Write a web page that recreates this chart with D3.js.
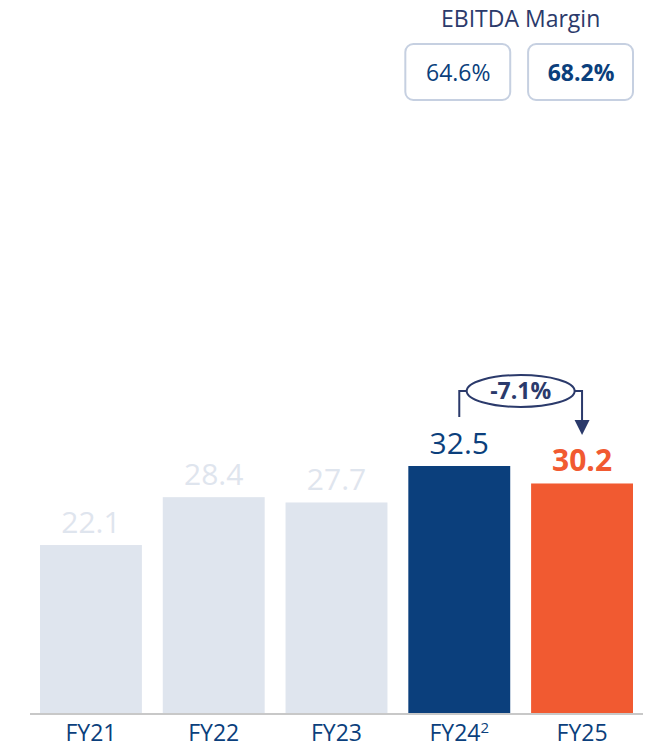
<!DOCTYPE html>
<html>
<head>
<meta charset="utf-8">
<style>
  body { margin: 0; background: #fff; }
  svg text { font-family: "Open Sans", "DejaVu Sans", sans-serif; }
</style>
</head>
<body>
<svg id="chart" width="656" height="750"></svg>
<script src="https://cdnjs.cloudflare.com/ajax/libs/d3/7.8.5/d3.min.js"></script>
<script>
// data
var years = ["FY21", "FY22", "FY23", "FY24", "FY25"];
var footnotes = ["", "", "", "2", ""];
var values = [22.1, 28.4, 27.7, 32.5, 30.2];
var marginYears = ["FY24", "FY25"];
var margins = ["64.6%", "68.2%"];
var changeLabel = "-7.1%";

var navy = "#0b3f7c", orange = "#f15a31", pale = "#dfe5ee", ink = "#2b3a6b";

var svg = d3.select("#chart");

var x = d3.scaleBand().domain(years).range([40, 633]).paddingInner(0.17).paddingOuter(0);
var y = d3.scaleLinear().domain([0, 32.5]).range([713, 466]);

function barColor(d, i) { return i === 3 ? navy : i === 4 ? orange : pale; }

svg.selectAll("rect.bar")
    .data(values)
    .enter()
    .append("rect")
    .attr("class", "bar")
    .attr("x", function(d, i) { return x(years[i]); })
    .attr("y", function(d) { return y(d); })
    .attr("width", x.bandwidth())
    .attr("height", function(d) { return y(0) - y(d); })
    .style("fill", barColor);

// value labels
svg.selectAll("text.val")
    .data(values)
    .enter()
    .append("text")
    .attr("class", "val")
    .attr("x", function(d, i) { return x(years[i]) + x.bandwidth() / 2; })
    .attr("y", function(d) { return y(d) - 12; })
    .attr("text-anchor", "middle")
    .style("font-size", "30px")
    .style("font-weight", function(d, i) { return i === 4 ? 700 : 400; })
    .style("fill", function(d, i) { return i === 3 ? navy : i === 4 ? orange : pale; })
    .text(function(d) { return d.toFixed(1); });

// baseline
svg.append("line")
    .attr("x1", 30).attr("x2", 643)
    .attr("y1", y(0) + 1).attr("y2", y(0) + 1)
    .style("stroke", "#c8c8c8")
    .style("stroke-width", 2);

// x axis labels
var xAxis = svg.append("g")
    .attr("transform", "translate(0," + (y(0) + 2) + ")")
    .call(d3.axisBottom(x).tickSize(0).tickPadding(6));
xAxis.select(".domain").remove();
xAxis.selectAll(".tick text")
    .style("font-size", "23px")
    .style("fill", navy)
    .attr("dy", "0.85em")
    .each(function(d, i) {
        if (footnotes[i]) {
            d3.select(this).append("tspan")
                .attr("dy", "-0.5em")
                .style("font-size", "15px")
                .text(footnotes[i]);
        }
    });

// EBITDA margin boxes
svg.append("text")
    .attr("x", (x("FY24") + x("FY25") + x.bandwidth()) / 2)
    .attr("y", 27)
    .attr("text-anchor", "middle")
    .style("font-size", "23px")
    .style("fill", ink)
    .text("EBITDA Margin");

var boxes = svg.selectAll("g.mbox")
    .data(margins)
    .enter()
    .append("g")
    .attr("class", "mbox");

boxes.append("rect")
    .attr("x", function(d, i) { return x(marginYears[i]) - 3; })
    .attr("y", 44)
    .attr("width", x.bandwidth() + 3)
    .attr("height", 56)
    .attr("rx", 8)
    .style("fill", "#fff")
    .style("stroke", "#c6d0e1")
    .style("stroke-width", 2);

boxes.append("text")
    .attr("x", function(d, i) { return x(marginYears[i]) + x.bandwidth() / 2 - 1; })
    .attr("y", 81)
    .attr("text-anchor", "middle")
    .style("font-size", "23px")
    .style("font-weight", function(d, i) { return i === 1 ? 700 : 400; })
    .style("fill", navy)
    .text(function(d) { return d; });

// change annotation
var xa = x("FY24") + x.bandwidth() / 2,
    xb = x("FY25") + x.bandwidth() / 2,
    cx = (xa + xb) / 2, cy = 391, rx = 54, ry = 16;

svg.append("path")
    .attr("d", "M" + xa + "," + 417 + "V" + cy + "H" + (cx - rx))
    .style("fill", "none").style("stroke", ink).style("stroke-width", 2);
svg.append("path")
    .attr("d", "M" + (cx + rx) + "," + cy + "H" + xb + "V" + 422)
    .style("fill", "none").style("stroke", ink).style("stroke-width", 2);
svg.append("path")
    .attr("d", "M" + (xb - 7.5) + ",420L" + (xb + 7.5) + ",420L" + xb + ",435Z")
    .style("fill", ink);
svg.append("ellipse")
    .attr("cx", cx).attr("cy", cy).attr("rx", rx).attr("ry", ry)
    .style("fill", "#fff").style("stroke", ink).style("stroke-width", 2);
svg.append("text")
    .attr("x", cx).attr("y", cy + 8)
    .attr("text-anchor", "middle")
    .style("font-size", "23px")
    .style("font-weight", 700)
    .style("fill", ink)
    .text(changeLabel);
</script>
</body>
</html>
